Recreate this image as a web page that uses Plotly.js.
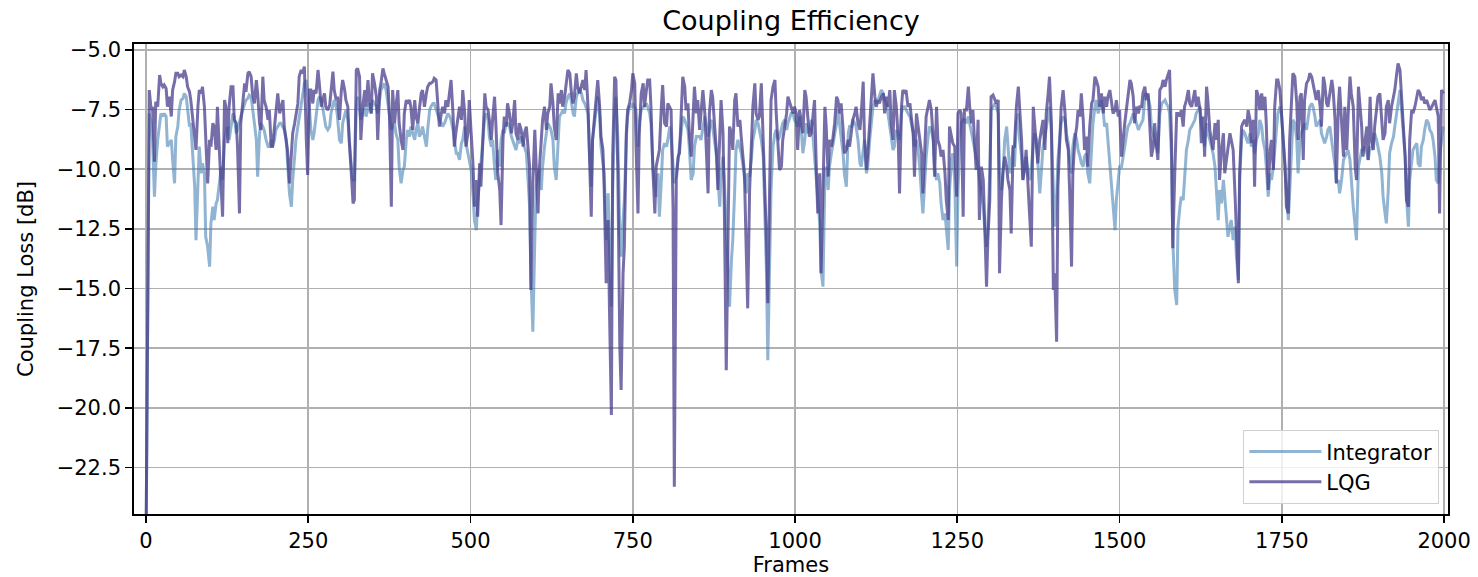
<!DOCTYPE html>
<html>
<head>
<meta charset="utf-8">
<script src="https://cdn.plot.ly/plotly-3.0.1.min.js"></script>
<style>html,body{margin:0;padding:0;background:#fff;}#chart{width:1478px;height:577px;}</style>
</head>
<body>
<div id="chart"></div>
<script>
const chartTitle = 'Coupling Efficiency';
const xLabel = 'Frames';
const yLabel = 'Coupling Loss [dB]';
const seriesNames = ['Integrator', 'LQG'];

const frames = [
0,3,5,8,10,13,15,18,21,23,
26,28,31,33,36,39,41,44,46,49,
51,54,57,59,62,64,67,69,72,75,
77,80,82,85,87,90,92,95,98,100,
103,105,108,110,113,116,118,121,123,126,
128,131,134,136,139,141,144,146,149,152,
154,157,159,162,164,167,170,172,175,177,
180,182,185,188,190,193,195,198,200,203,
206,208,211,213,216,218,221,224,226,229,
231,234,236,239,241,244,247,249,252,254,
257,259,262,265,267,270,272,275,277,280,
283,285,288,290,293,295,298,301,303,306,
308,311,313,316,319,321,324,326,329,331,
334,337,339,342,344,347,349,352,355,357,
360,362,365,367,370,373,375,378,380,383,
385,388,390,393,396,398,401,403,406,408,
411,414,416,419,421,424,426,429,432,434,
437,439,442,444,447,450,452,455,457,460,
462,465,468,470,473,475,478,480,483,486,
488,491,493,496,498,501,504,506,509,511,
514,516,519,522,524,527,529,532,534,537,
539,542,545,547,550,552,555,557,560,563,
565,568,570,573,575,578,581,583,586,588,
591,593,596,599,601,604,606,609,611,614,
617,619,622,624,627,629,632,635,637,640,
642,645,647,650,653,655,658,660,663,665,
668,671,673,676,678,681,683,686,688,691,
694,696,699,701,704,706,709,712,714,717,
719,722,724,727,730,732,735,737,740,742,
745,748,750,753,755,758,760,763,766,768,
771,773,776,778,781,784,786,789,791,794,
796,799,802,804,807,809,812,814,817,820,
822,825,827,830,832,835,837,840,843,845,
848,850,853,855,858,861,863,866,868,871,
873,876,879,881,884,886,889,891,894,897,
899,902,904,907,909,912,915,917,920,922,
925,927,930,933,935,938,940,943,945,948,
951,953,956,958,961,963,966,969,971,974,
976,979,981,984,987,989,992,994,997,999,
1002,1004,1007,1010,1012,1015,1017,1020,1022,1025,
1028,1030,1033,1035,1038,1040,1043,1046,1048,1051,
1053,1056,1058,1061,1064,1066,1069,1071,1074,1076,
1079,1082,1084,1087,1089,1092,1094,1097,1100,1102,
1105,1107,1110,1112,1115,1118,1120,1123,1125,1128,
1130,1133,1136,1138,1141,1143,1146,1148,1151,1153,
1156,1159,1161,1164,1166,1169,1171,1174,1177,1179,
1182,1184,1187,1189,1192,1195,1197,1200,1202,1205,
1207,1210,1213,1215,1218,1220,1223,1225,1228,1231,
1233,1236,1238,1241,1243,1246,1249,1251,1254,1256,
1259,1261,1264,1267,1269,1272,1274,1277,1279,1282,
1284,1287,1290,1292,1295,1297,1300,1302,1305,1308,
1310,1313,1315,1318,1320,1323,1326,1328,1331,1333,
1336,1338,1341,1344,1346,1349,1351,1354,1356,1359,
1362,1364,1367,1369,1372,1374,1377,1380,1382,1385,
1387,1390,1392,1395,1398,1400,1403,1405,1408,1410,
1413,1416,1418,1421,1423,1426,1428,1431,1434,1436,
1439,1441,1444,1446,1449,1451,1454,1457,1459,1462,
1464,1467,1469,1472,1475,1477,1480,1482,1485,1487,
1490,1493,1495,1498,1500,1503,1505,1508,1511,1513,
1516,1518,1521,1523,1526,1529,1531,1534,1536,1539,
1541,1544,1547,1549,1552,1554,1557,1559,1562,1565,
1567,1570,1572,1575,1577,1580,1582,1585,1588,1590,
1593,1595,1598,1600,1603,1606,1608,1611,1613,1616,
1618,1621,1624,1626,1629,1631,1634,1636,1639,1642,
1644,1647,1649,1652,1654,1657,1660,1662,1665,1667,
1670,1672,1675,1678,1680,1683,1685,1688,1690,1693,
1696,1698,1701,1703,1706,1708,1711,1714,1716,1719,
1721,1724,1726,1729,1732,1734,1737,1739,1742,1744,
1747,1749,1752,1755,1757,1760,1762,1765,1767,1770,
1773,1775,1778,1780,1783,1785,1788,1791,1793,1796,
1798,1801,1803,1806,1809,1811,1814,1816,1819,1821,
1824,1827,1829,1832,1834,1837,1839,1842,1845,1847,
1850,1852,1855,1857,1860,1863,1865,1868,1870,1873,
1875,1878,1881,1883,1886,1888,1891,1893,1896,1898,
1901,1904,1906,1909,1911,1914,1916,1919,1922,1924,
1927,1929,1932,1934,1937,1940,1942,1945,1947,1950,
1952,1955,1958,1960,1963,1965,1968,1970,1973,1976,
1978,1981,1983,1986,1988,1991,1993,1996,1999
];

const integratorLoss = [
-26,-15.8,-7.66,-8.07,-8.77,-11.15,-9.89,-8.77,-8.21,-7.66,
-7.79,-7.66,-7.79,-9.05,-8.91,-8.77,-9.61,-10.59,-8.63,-8.21,
-7.52,-7.10,-7.03,-6.82,-6.96,-7.38,-8.21,-8.07,-9.47,-10.73,
-12.97,-10.59,-9.05,-10.17,-9.75,-10.17,-12.83,-13.25,-14.08,-12.27,
-11.57,-12.13,-11.43,-11.29,-10.59,-9.89,-10.45,-8.77,-8.49,-8.21,
-8.77,-8.21,-7.66,-7.79,-8.49,-8.35,-7.93,-7.79,-7.52,-7.24,
-7.10,-7.03,-6.89,-6.96,-7.52,-8.07,-8.77,-10.31,-8.49,-8.07,
-8.21,-8.35,-8.77,-9.05,-9.05,-8.77,-9.05,-8.77,-8.35,-8.21,
-8.07,-8.07,-8.21,-8.35,-8.77,-9.89,-11.01,-11.57,-10.45,-9.47,
-8.77,-8.21,-7.79,-7.38,-6.96,-6.40,-6.26,-6.82,-7.52,-8.35,
-8.77,-8.49,-7.79,-7.10,-6.96,-7.10,-7.38,-7.79,-8.21,-8.35,
-8.21,-7.66,-7.24,-7.10,-7.38,-7.79,-8.77,-8.91,-8.07,-7.66,
-7.52,-7.93,-8.77,-9.75,-10.45,
-10.45,-7.38,-6.96,-7.52,-7.93,-7.66,-7.38,-7.79,-7.38,-7.24,
-7.66,-7.10,-7.24,-7.38,-7.66,-6.96,-6.68,-6.54,-6.40,-6.68,
-7.38,-7.79,-8.35,-8.21,-8.07,-8.49,-8.77,-9.89,-10.59,-10.03,
-9.89,-8.77,-8.35,-8.63,-8.21,-8.49,-8.77,-8.35,-8.07,-8.63,
-8.49,-8.21,-8.63,-9.05,-8.35,-7.52,-7.38,-7.24,-7.24,-7.52,
-7.79,-7.93,-8.07,-8.21,-8.07,-7.93,-7.66,-7.79,-7.93,-8.35,
-8.77,-9.33,-9.33,-9.61,-8.91,-8.77,-8.21,-8.91,-9.33,-9.61,
-10.03,-11.15,-12.13,-12.55,-11.29,-10.45,-9.89,-8.77,-7.79,-7.66,
-7.93,-8.63,-9.05,-8.77,-9.89,-10.45,-9.19,-9.89,-8.77,-8.35,
-8.49,-8.07,-8.07,-8.21,-8.63,-8.77,-9.05,-9.19,-8.77,-8.91,
-8.63,-8.77,-9.05,-9.33,-10.17,-11.57,-14.36,-16.81,-12.97,-10.73,
-10.17,-10.03,-10.87,-9.89,-9.05,-8.35,-8.07,-8.21,-8.35,-8.77,
-9.89,-10.45,-8.77,-7.79,-7.66,-7.52,-7.66,-7.24,-6.96,-6.82,
-7.10,-7.66,
-7.79,-6.96,-6.82,-6.68,-6.82,-7.10,-7.24,-7.38,-7.66,-9.05,
-10.73,-8.77,-7.93,-7.38,-6.96,-7.79,-9.05,-9.89,-10.17,-12.97,
-11.01,-13.25,-15.76,-10.87,-7.79,-6.96,-8.77,-12.69,-13.66,-12.13,
-11.29,-8.77,-7.79,-7.38,-7.38,-7.24,-7.38,-7.52,-9.05,-8.07,
-7.52,-7.38,-7.38,-7.24,-7.38,-7.66,-8.07,-9.89,-10.73,-11.15,
-10.17,-11.99,-10.45,-9.19,-8.91,-9.05,-8.77,-8.21,-8.63,-9.89,
-10.59,-10.17,-9.33,-9.05,-8.35,-7.79,-7.93,-8.07,-8.35,-9.05,
-10.45,-10.17,-9.05,-8.63,-8.63,-8.63,-8.77,-8.21,-7.79,-8.07,
-8.63,-8.35,-7.93,-8.21,-8.77,-9.47,-10.31,-11.57,-10.17,-9.47,
-10.45,-12.41,-14.36,-15.76,-13.80,-12.97,-10.87,-9.19,-8.77,-9.05,
-9.33,-9.89,-10.45,-11.01,-10.17,-10.31,-9.47,-8.77,-8.35,-7.93,
-8.07,-8.35,-8.77,-9.47,-11.57,-14.36,-18.00,-14.36,-10.87,-9.05,
-8.49,-8.35,-8.77,-8.63,-8.21,-8.07,-7.93,-8.35,-8.07,-7.79,
-7.66,-7.66,
-7.93,-8.07,-8.21,-7.79,-8.49,-9.33,-8.77,-8.07,-8.49,-8.35,
-7.93,-8.77,-9.47,-10.45,-11.01,-12.27,-14.22,-14.92,-10.17,-9.89,
-10.87,-9.89,-9.33,-9.05,-8.63,-8.07,-7.52,-8.21,-8.77,-9.33,
-10.17,-10.73,-8.49,-8.21,-8.21,-7.93,-8.07,-8.21,-8.77,-9.75,
-9.89,-9.19,-8.77,-10.17,-9.89,-8.77,-7.93,-7.38,-7.10,-7.24,
-7.10,-6.96,-6.68,-6.82,-7.10,-7.24,-7.66,-8.21,-8.49,-9.19,
-9.05,-8.35,-8.49,-8.77,-7.66,-7.38,-7.38,-7.52,-7.66,-7.79,
-8.07,-8.49,-9.05,-8.77,-9.05,-9.89,-11.15,-11.85,-10.45,-9.47,
-8.63,-8.21,-8.35,-8.77,-9.89,-10.45,-10.17,-10.59,-11.43,-12.13,
-11.85,-12.41,-13.38,-10.87,-9.61,-9.33,-10.45,-14.08,-10.87,-8.77,
-8.07,-7.93,-7.93,-8.07,-7.79,-8.07,-8.49,-8.77,-9.05,-9.33,
-9.89,-10.45,-11.01,-11.57,-12.41,-13.25,-12.41,-10.17,-7.52,-7.38,
-7.24,-7.38,-7.66,-10.17,-10.87,-10.45,-8.77,-8.21,-9.05,-10.17,
-9.89,-9.05,
-9.89,-8.07,-7.66,-8.77,-9.47,-10.45,-9.89,-9.47,-10.17,-10.45,
-9.89,-9.05,-8.49,-8.77,-9.89,-11.01,-9.89,-9.05,-8.63,-8.21,
-7.79,-7.38,-8.49,-10.87,-12.41,-11.15,-9.61,-8.63,-8.07,-7.79,
-7.93,-8.49,-8.91,-9.61,-10.17,-9.05,-8.49,-8.77,-9.19,-9.47,
-9.75,-9.89,-9.47,-9.33,-10.17,-10.59,-8.77,-8.07,-7.38,-7.10,
-7.66,-7.38,-7.10,-7.66,-8.21,-8.07,-8.77,-9.61,-10.45,-11.29,
-12.55,-11.29,-10.45,-9.89,-9.89,-9.61,-9.05,-8.49,-8.21,-8.07,
-7.93,-7.66,-7.79,-8.07,-8.35,-8.21,-8.07,-7.93,-6.96,-6.82,
-6.96,-7.38,-8.21,-8.49,-8.77,-9.05,-9.33,-7.66,-7.24,-7.17,
-7.10,-7.24,-7.38,-7.66,-9.47,-12.97,-15.06,-15.69,-12.41,-11.57,
-11.15,-11.29,-10.45,-9.19,-8.77,-8.35,-8.21,-8.07,-7.93,-7.66,
-7.52,-7.38,-8.07,-8.77,-9.05,-8.07,-8.49,-8.77,-9.05,-9.33,
-9.89,-11.01,-12.13,-10.87,-11.43,-10.45,-11.15,-12.41,-12.83,-12.41,
-12.13,-12.97,
-12.41,-13.66,-14.64,-10.45,-8.77,-8.35,-8.49,-8.77,-8.91,-8.49,
-9.05,-8.77,-9.33,-8.77,-8.49,-7.93,-8.21,-8.77,-9.19,-9.89,
-11.15,-10.17,-10.45,-9.89,-9.05,-8.21,-7.66,-7.38,-7.52,-8.77,
-9.89,-11.01,-12.13,-11.01,-9.05,-7.93,-8.07,-8.77,-10.17,-8.77,
-8.49,-8.21,-8.07,-8.35,-7.79,-7.38,-7.24,-7.38,-7.79,-8.21,
-8.07,-7.93,-8.49,-8.77,-8.91,-8.63,-8.35,-8.21,-8.77,-9.19,
-9.89,-10.59,-10.45,-11.01,-10.45,-9.61,-9.47,-9.33,-9.19,-9.61,
-10.45,-11.57,-12.41,-12.97,-9.89,-9.61,-9.19,-9.19,-9.05,-9.33,
-9.61,-9.05,-9.19,-8.77,-8.49,-8.77,-9.05,-9.47,-10.17,-11.15,
-11.85,-12.27,-10.87,-9.33,-8.91,-8.63,-8.21,-7.66,-7.10,-6.68,
-7.38,-8.49,-9.47,-11.15,-12.41,-10.45,-9.61,-9.19,-9.05,-8.91,
-9.75,-9.89,-9.05,-8.77,-8.35,-7.93,-8.07,-8.35,-8.49,-8.77,
-9.47,-10.45,-10.59,-9.47,-8.77,-8.21
];

const lqgLoss = [
-26,-11.15,-6.68,-7.52,-7.38,-9.68,-7.17,-7.38,-6.05,-6.40,
-6.54,-6.47,-6.61,-7.38,-6.96,-7.79,-6.68,-6.33,-5.98,-5.98,
-6.12,-6.05,-6.12,-5.84,-6.12,-6.54,-6.75,-7.10,-7.93,-8.77,
-9.19,-7.38,-6.68,-6.82,-6.54,-7.38,-8.77,-10.59,-8.77,-9.05,
-8.07,-8.21,-9.19,-7.38,-9.19,-11.01,-11.99,-7.10,-7.38,-8.91,
-7.38,-6.54,-6.54,-7.93,-8.07,-9.05,-11.85,-8.07,-7.10,-6.40,
-6.75,-5.98,-5.91,-6.12,-6.82,-7.24,-6.26,-6.82,-8.07,-8.35,
-6.12,-7.10,-7.38,-7.93,-7.52,-9.05,-9.05,-8.21,-7.66,-6.82,
-7.66,-7.38,-7.10,-8.21,-8.77,-9.19,-10.59,-9.47,-8.49,-8.07,
-7.66,-7.24,-6.12,-5.84,-5.98,-5.70,-8.77,-10.24,-6.68,-6.68,
-7.24,-6.68,-6.82,-5.84,-6.40,-7.38,-7.10,-6.82,-7.38,-7.52,
-7.31,-6.68,-5.91,-6.68,-7.10,-6.96,-7.93,-6.68,-6.26,-6.68,
-7.10,-7.38,-8.77,-10.03,-11.43,
-11.29,-5.84,-5.77,-6.12,-8.77,-7.38,-6.68,-7.38,-6.26,-7.10,
-7.66,-5.98,-6.40,-6.96,-8.77,-6.68,-6.40,-5.77,-5.98,-6.26,
-6.54,-7.66,-11.57,-6.68,-8.07,-7.38,-6.68,-8.07,-8.77,-9.19,
-7.66,-7.10,-7.24,-7.10,-7.38,-8.35,-7.10,-7.79,-8.07,-7.52,
-6.82,-6.68,-7.38,-6.82,-6.54,-6.40,-6.40,-6.33,-6.19,-6.26,
-7.38,-8.21,-7.66,-7.38,-7.66,-7.10,-7.38,-6.54,-6.26,-7.66,
-9.05,-8.35,-7.93,-7.38,-7.93,-6.68,-7.66,-9.05,-8.49,-7.10,
-8.49,-9.89,-11.57,-10.45,-11.99,-9.75,-10.73,-8.77,-6.82,-7.38,
-7.52,-7.93,-8.77,-7.93,-6.96,-8.07,-10.17,-10.87,-12.34,-8.77,
-7.79,-8.21,-7.24,-7.66,-8.49,-8.07,-7.10,-8.49,-8.77,-8.07,
-8.35,-9.05,-8.49,-8.21,-8.77,-9.89,-15.06,-10.59,-8.35,-9.61,
-11.85,-10.03,-8.49,-7.93,-7.38,-8.35,-7.66,-7.38,-6.40,-7.24,
-8.21,-8.77,-6.82,-7.24,-6.68,-7.38,-6.96,-6.40,-5.84,-5.98,
-6.68,-7.24,
-6.96,-5.98,-6.54,-6.82,-6.54,-6.26,-6.68,-5.84,-7.38,-9.19,
-11.99,-8.77,-7.79,-6.82,-6.26,-7.38,-8.63,-9.19,-10.87,-14.78,
-12.13,-15.76,-20.30,-9.47,-6.12,-6.26,-10.17,-17.44,-19.25,-14.36,
-13.25,-8.49,-7.52,-7.24,-6.68,-5.98,-6.40,-9.05,-11.85,-8.49,
-6.82,-6.40,-7.38,-6.68,-6.26,-6.26,-7.38,-10.03,-11.85,-9.89,
-9.47,-9.19,-7.38,-6.47,-8.07,-8.21,-7.24,-7.38,-7.52,-11.57,
-23.31,-10.45,-9.47,-9.33,-7.38,-6.12,-6.54,-7.52,-7.24,-8.49,
-9.47,-7.38,-6.54,-7.66,-7.10,-8.35,-7.79,-6.68,-7.66,-8.77,
-11.01,-7.66,-6.68,-6.96,-8.21,-9.33,-10.87,-8.77,-7.10,-8.49,
-11.57,-18.42,-12.27,-8.21,-8.49,-9.19,-7.10,-6.82,-8.21,-7.93,
-8.63,-9.75,-10.17,-13.66,-15.83,-10.87,-8.77,-7.38,-6.40,-7.66,
-7.93,-7.79,-6.40,-8.77,-10.17,-12.97,-15.62,-9.05,-7.10,-6.54,
-6.26,-7.66,-9.47,-10.03,-9.89,-8.77,-8.21,-7.66,-6.96,-7.24,
-7.38,-7.66,
-7.38,-7.66,-9.19,-7.52,-8.07,-8.49,-6.68,-6.96,-7.93,-8.63,
-8.49,-7.79,-7.10,-10.17,-11.85,-10.17,-14.36,-10.87,-7.38,-8.21,
-10.31,-8.77,-9.05,-8.77,-8.07,-6.96,-7.10,-7.66,-7.24,-8.35,
-9.33,-9.19,-8.77,-9.05,-8.49,-7.93,-7.66,-7.38,-8.07,-8.35,
-7.66,-6.33,-8.77,-10.03,-9.33,-7.93,-6.68,-5.98,-6.96,-7.38,
-7.10,-7.24,-6.96,-6.82,-7.66,-6.96,-7.38,-6.68,-8.07,-8.77,
-6.68,-7.38,-8.77,-11.01,-7.38,-6.68,-6.82,-6.68,-7.38,-7.24,
-7.79,-8.49,-10.31,-7.66,-8.07,-8.77,-9.33,-11.01,-8.77,-7.79,
-7.38,-7.10,-7.52,-8.77,-10.31,-7.38,-8.77,-9.05,-9.47,-9.19,
-10.17,-11.29,-12.13,-8.21,-8.63,-8.91,-9.05,-11.15,-7.66,-7.52,
-7.66,-11.99,-7.52,-7.52,-6.54,-7.38,-8.07,-7.52,-9.05,-10.03,
-7.93,-12.13,-9.89,-10.45,-12.13,-14.92,-12.97,-11.29,-6.96,-6.89,
-7.10,-7.24,-7.10,-14.36,-11.29,-10.17,-9.47,-9.89,-10.45,-10.87,
-12.69,-9.05,
-9.05,-7.38,-6.54,-7.38,-8.77,-10.45,-9.89,-9.19,-10.73,-12.69,
-13.25,-7.38,-8.07,-9.19,-9.75,-8.77,-8.21,-7.93,-9.19,-7.66,
-6.82,-6.12,-8.07,-15.06,-14.36,-17.23,-10.73,-8.77,-7.38,-6.68,
-7.66,-8.77,-9.19,-10.87,-14.08,-10.17,-8.77,-8.21,-7.52,-7.79,
-6.82,-7.93,-9.19,-8.63,-9.89,-8.21,-7.24,-7.10,-6.12,-6.26,
-6.54,-7.38,-6.82,-7.66,-6.96,-7.38,-6.96,-6.68,-7.10,-7.66,
-7.52,-7.10,-7.79,-7.52,-9.47,-8.77,-8.07,-7.38,-6.96,-6.26,
-6.40,-6.96,-8.07,-7.38,-7.66,-7.38,-7.38,-6.82,-6.54,-7.10,
-6.82,-8.21,-9.47,-9.05,-8.07,-9.05,-9.61,-6.68,-6.54,-6.26,
-6.54,-6.26,-5.98,-5.84,-8.77,-13.31,-10.17,-7.66,-7.66,-7.79,
-7.52,-8.21,-7.38,-7.10,-6.68,-7.24,-7.38,-7.10,-6.68,-7.38,
-6.96,-7.52,-8.91,-7.79,-9.47,-6.54,-7.10,-8.35,-8.77,-9.19,
-8.07,-8.77,-7.93,-10.45,-9.19,-8.49,-10.17,-9.47,-9.05,-8.49,
-8.77,-9.19,
-11.15,-12.97,-14.78,-10.17,-8.21,-8.07,-7.93,-8.21,-7.52,-7.93,
-8.91,-7.93,-10.73,-6.68,-6.96,-7.52,-6.82,-7.52,-6.96,-8.07,
-10.87,-9.19,-8.77,-10.03,-7.38,-6.26,-6.26,-6.68,-7.38,-8.77,
-9.89,-11.57,-11.85,-8.77,-6.68,-5.98,-6.12,-7.24,-8.77,-6.96,
-6.82,-9.61,-7.10,-6.40,-6.26,-5.98,-6.12,-6.40,-6.82,-7.10,
-6.68,-7.38,-8.21,-6.12,-6.40,-7.24,-7.38,-6.82,-6.26,-6.68,
-7.93,-10.59,-7.38,-6.54,-8.21,-9.47,-7.38,-9.19,-7.79,-6.12,
-6.82,-7.38,-9.89,-10.45,-6.54,-7.24,-8.21,-9.47,-8.77,-8.21,
-9.61,-6.96,-8.77,-9.19,-8.21,-7.52,-6.96,-6.82,-7.79,-8.77,
-8.49,-7.38,-7.10,-8.07,-7.38,-6.96,-6.68,-5.98,-5.56,-5.84,
-6.82,-8.49,-9.47,-11.29,-11.57,-8.77,-7.52,-7.66,-7.38,-6.96,
-6.68,-6.82,-7.10,-6.96,-7.24,-7.10,-7.38,-7.52,-7.38,-7.24,
-7.10,-7.38,-7.79,-11.85,-6.68,-6.82
];

const xTicks = [0, 250, 500, 750, 1000, 1250, 1500, 1750, 2000];
const yTicks = [-22.5, -20.0, -17.5, -15.0, -12.5, -10.0, -7.5, -5.0];

const FONT = 'DejaVu Sans, Liberation Sans, sans-serif';

const traces = [
  {
    x: frames, y: integratorLoss, name: seriesNames[0], type: 'scatter', mode: 'lines',
    line: {color: 'rgba(70,130,180,0.6)', width: 3}
  },
  {
    x: frames, y: lqgLoss, name: seriesNames[1], type: 'scatter', mode: 'lines',
    line: {color: 'rgba(72,61,139,0.75)', width: 3}
  }
];

const axisCommon = {
  showline: true, mirror: true, linecolor: '#000', linewidth: 1.8,
  ticks: 'outside', ticklen: 7, tickwidth: 1.7, tickcolor: '#000',
  showgrid: true, gridcolor: '#b0b0b0', gridwidth: 1.6,
  zeroline: false,
  tickfont: {family: FONT, size: 21, color: '#000'}
};

const layout = {
  width: 1478, height: 577,
  margin: {l: 134, r: 30, t: 44, b: 63},
  paper_bgcolor: '#fff', plot_bgcolor: '#fff',
  title: {
    text: chartTitle, font: {family: FONT, size: 27, color: '#000'},
    x: 0.5, xref: 'paper', xanchor: 'center',
    y: 1 - 21/577, yref: 'container', yanchor: 'middle'
  },
  xaxis: Object.assign({}, axisCommon, {
    range: [-18.5, 2006],
    tickmode: 'array', tickvals: xTicks, ticktext: xTicks.map(String),
    title: {text: xLabel, font: {family: FONT, size: 21, color: '#000'}, standoff: 5}
  }),
  yaxis: Object.assign({}, axisCommon, {
    range: [-24.45, -4.75],
    tickmode: 'array', tickvals: yTicks, ticktext: yTicks.map(v => (v < 0 ? '\u2212' : '') + Math.abs(v).toFixed(1)),
    title: {text: yLabel, font: {family: FONT, size: 21, color: '#000'}, standoff: 17}
  }),
  showlegend: true,
  legend: {
    x: 0.9932, y: 0.0213, xanchor: 'right', yanchor: 'bottom',
    bgcolor: 'rgba(255,255,255,0.8)', bordercolor: '#d0d0d0', borderwidth: 1.3,
    font: {family: FONT, size: 21, color: '#000'},
    itemwidth: 72,
    tracegroupgap: 0
  }
};

Plotly.newPlot('chart', traces, layout, {displayModeBar: false, staticPlot: true});
</script>
</body>
</html>
